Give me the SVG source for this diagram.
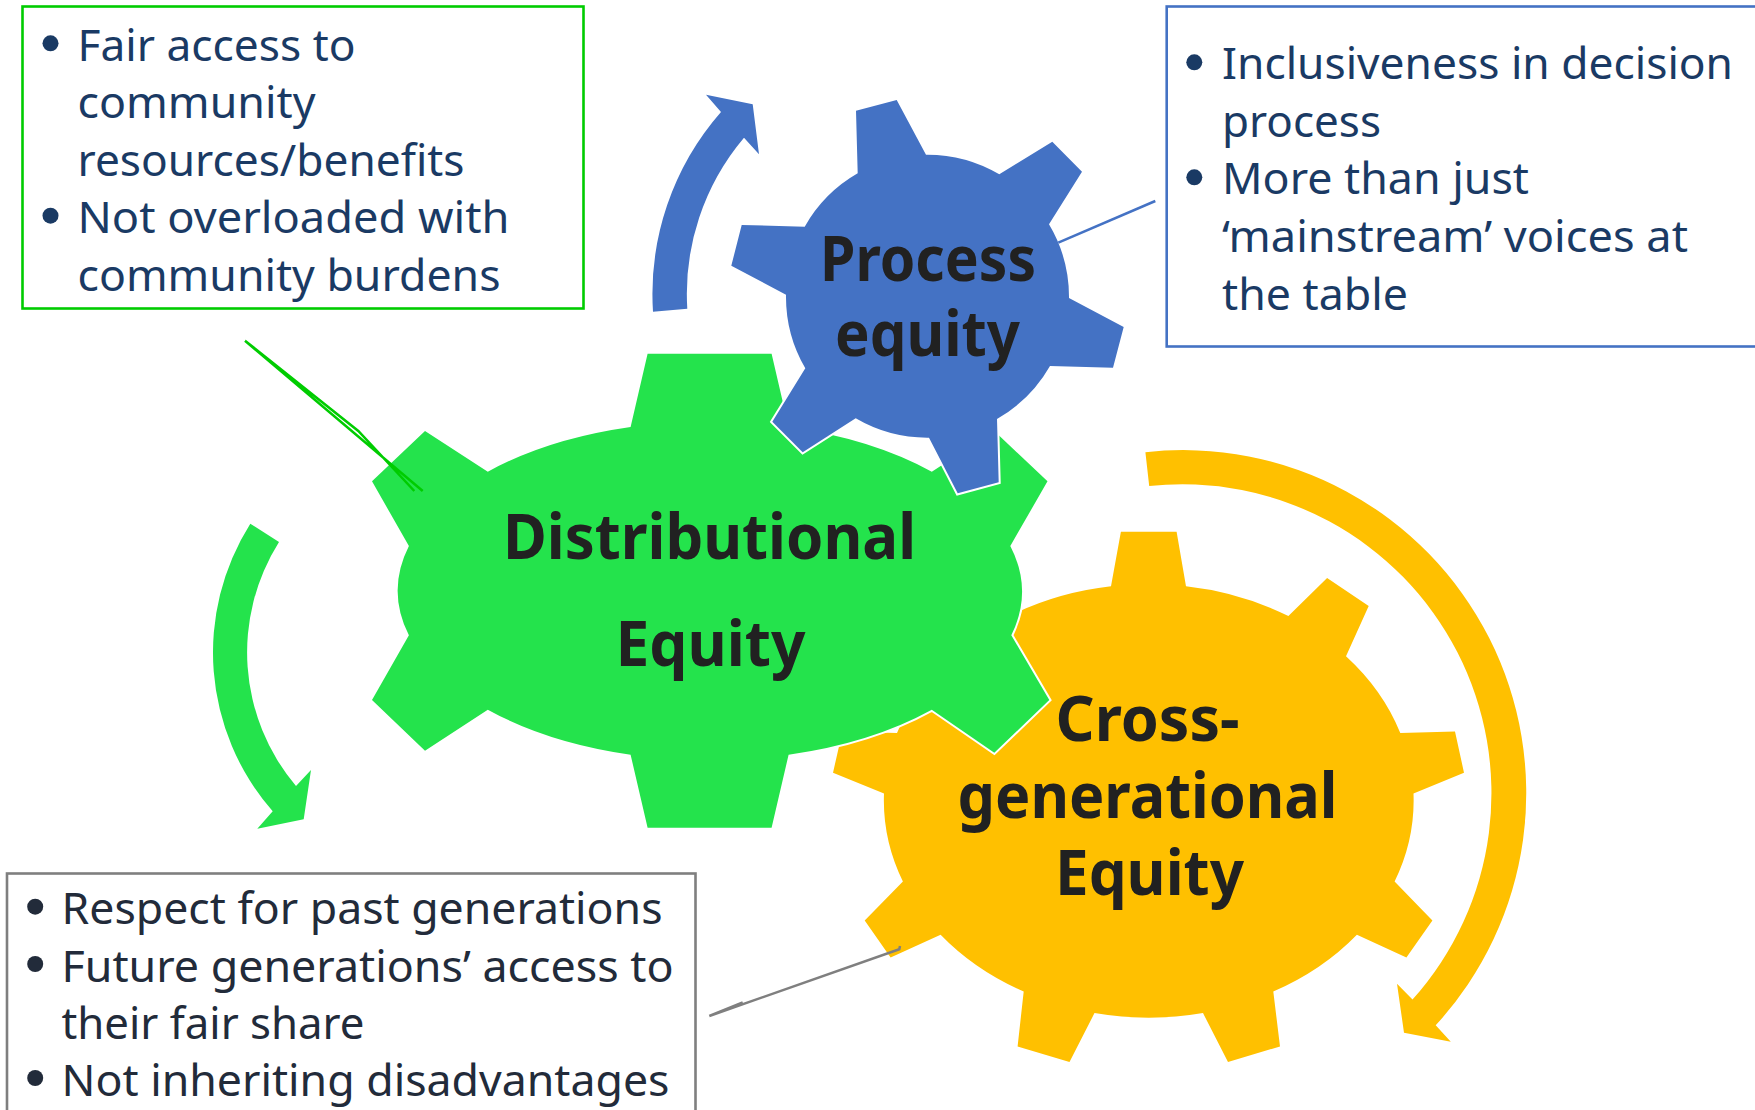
<svg xmlns="http://www.w3.org/2000/svg" width="1755" height="1110" viewBox="0 0 1755 1110">
<style>
.box{fill:#fff;stroke-width:2.6}
.body{font-family:"Noto Sans","Open Sans",sans-serif;font-size:43.5px;font-weight:400;fill:#1a3a64}
.dark{fill:#222b3a}
.title{font-family:"Noto Sans","Open Sans",sans-serif;font-size:62px;font-weight:700;fill:#212121}
.lead{fill:none;stroke-width:2.5}
.gear{stroke:#fff;stroke-width:4;paint-order:stroke;stroke-linejoin:miter}
</style>
<rect width="1755" height="1110" fill="#fff"/>
<g id="gear-cross-generational">
<path fill="#FFC000" d="M1120.9,531.7 L1176.6,531.7 L1186,586.2 A265,217.6 0 0 1 1288.4,616.1 L1327.1,577.9 L1368.7,606 L1346,656.3 A265,217.6 0 0 1 1400.3,733.1 L1455,731.5 L1464,772.7 L1413.5,793.5 A265,217.6 0 0 1 1394.6,881.6 L1432.4,920.4 L1406.4,957.5 L1356.9,934.7 A265,217.6 0 0 1 1273.3,991.5 L1280,1046.5 L1228,1061.9 L1203,1013.1 A265,217.6 0 0 1 1094.5,1013.1 L1069.5,1061.9 L1017.6,1046.5 L1023.7,991.5 A265,217.6 0 0 1 940.6,934.7 L890.6,957.5 L864.7,920.4 L902.9,881.6 A265,217.6 0 0 1 884,793.5 L833,772.7 L842.4,731.5 L897,733.1 A265,217.6 0 0 1 951.4,656.3 L928.7,606 L970.3,577.9 L1009,616.1 A265,217.6 0 0 1 1111,586.2 Z"/>
<text class="title" x="1055.5" y="741" textLength="184" lengthAdjust="spacingAndGlyphs">Cross-</text>
<text class="title" x="957.5" y="818.4" textLength="380" lengthAdjust="spacingAndGlyphs">generational</text>
<text class="title" x="1055" y="895" textLength="189" lengthAdjust="spacingAndGlyphs">Equity</text>
</g>
<g id="gear-distributional">
<path class="gear" fill="#24E34C" d="M647.6,353.7 L771.6,353.7 L788.6,427 A312,169 0 0 1 931.8,471.7 L994.3,431 L1047.5,481.3 L1010.3,546 A312,169 0 0 1 1011.3,635.3 L1049.3,700 L994.3,752.7 L931.8,709.7 A312,169 0 0 1 788.6,754.7 L771.6,827.7 L647.6,827.7 L630.6,754.7 A312,169 0 0 1 487.8,709.7 L425,750.7 L372,700 L408.9,635.3 A312,169 0 0 1 408.9,546 L372,481.3 L425,431 L487.8,471.7 A312,169 0 0 1 630.6,427 Z"/>
<text class="title" x="503" y="559.3" textLength="413" lengthAdjust="spacingAndGlyphs">Distributional</text>
<text class="title" x="615.5" y="666" textLength="190" lengthAdjust="spacingAndGlyphs">Equity</text>
</g>
<g id="gear-process">
<path class="gear" fill="#4472C4" d="M856,110.7 L896.7,100 L926,154.7 A142,142 0 0 1 999.3,174.3 L1052.3,141.7 L1082,171.7 L1049,224.3 A142,142 0 0 1 1069,298 L1123.7,327 L1113,367.7 L1050,366 A142,142 0 0 1 997,419 L998.7,482.3 L957.7,493.3 L929,437.7 A142,142 0 0 1 855.7,418.3 L802.7,452.3 L772.3,421.7 L805.3,368.3 A142,142 0 0 1 786,294.7 L731.3,265.7 L741.7,225 L804.7,226.7 A142,142 0 0 1 857.7,173.3 Z"/>
<text class="title" x="820" y="281" textLength="216" lengthAdjust="spacingAndGlyphs">Process</text>
<text class="title" x="835" y="355.5" textLength="185" lengthAdjust="spacingAndGlyphs">equity</text>
</g>
<g id="connectors">
<path fill="#4472C4" d="M653,311.7 L687.3,308.7 A242,242 0 0 1 744,137.7 L759,154.3 L752.7,104.3 L706,94.7 L721,112 A276,276 0 0 0 653,311.7 Z"/>
<path fill="#FFC000" d="M1145.4,452.2 A343,343 0 0 1 1435.7,1025.3 L1450.8,1041.7 L1404,1032.7 L1397,983.7 L1412.5,999.6 A309,309 0 0 0 1149.2,486.1 Z"/>
<path fill="#24E34C" d="M250.3,523.7 L279,542 A207,207 0 0 0 296,786 L311,770 L303.7,819.3 L257.3,828.7 L272.7,811.3 A241,241 0 0 1 250.3,523.7 Z"/>
<path class="lead" stroke="#00CC00" d="M245,340.7 L358.3,431 L414.3,491 M245,340.7 L422.7,491"/>
<path class="lead" stroke="#4472C4" d="M1058.3,242.7 L1155.3,201"/>
<path class="lead" stroke="#7F7F7F" d="M709.3,1016 L742.7,1002.3 M709.3,1016 L899.3,949.3 L900,946"/>
</g>
<g id="box-distributional">
<rect class="box" stroke="#00CC00" x="22.5" y="6.5" width="561" height="302"/>
<circle cx="50.5" cy="43.3" r="8" fill="#1a3a64"/>
<circle cx="50.5" cy="215.7" r="8" fill="#1a3a64"/>
<text class="body" x="77.5" y="61" textLength="278" lengthAdjust="spacingAndGlyphs">Fair access to</text>
<text class="body" x="77.5" y="118" textLength="238" lengthAdjust="spacingAndGlyphs">community</text>
<text class="body" x="77.5" y="175.5" textLength="387" lengthAdjust="spacingAndGlyphs">resources/benefits</text>
<text class="body" x="77.5" y="233" textLength="432" lengthAdjust="spacingAndGlyphs">Not overloaded with</text>
<text class="body" x="77.5" y="290.5" textLength="423" lengthAdjust="spacingAndGlyphs">community burdens</text>
</g>
<g id="box-process">
<rect class="box" stroke="#4472C4" x="1166.7" y="6.5" width="600" height="340"/>
<circle cx="1194.3" cy="62.3" r="8" fill="#1a3a64"/>
<circle cx="1194.3" cy="177.3" r="8" fill="#1a3a64"/>
<text class="body" x="1222" y="79.3" textLength="511" lengthAdjust="spacingAndGlyphs">Inclusiveness in decision</text>
<text class="body" x="1222" y="136.7" textLength="159" lengthAdjust="spacingAndGlyphs">process</text>
<text class="body" x="1222" y="194.3" textLength="307" lengthAdjust="spacingAndGlyphs">More than just</text>
<text class="body" x="1222" y="251.7" textLength="466" lengthAdjust="spacingAndGlyphs">‘mainstream’ voices at</text>
<text class="body" x="1222" y="309.8" textLength="186" lengthAdjust="spacingAndGlyphs">the table</text>
</g>
<g id="box-cross-generational">
<rect class="box" stroke="#7F7F7F" x="7" y="873.5" width="688.5" height="260"/>
<circle cx="35.2" cy="906.7" r="8" fill="#222b3a"/>
<circle cx="35.2" cy="964" r="8" fill="#222b3a"/>
<circle cx="35.2" cy="1078" r="8" fill="#222b3a"/>
<text class="body dark" x="61.5" y="924.3" textLength="601" lengthAdjust="spacingAndGlyphs">Respect for past generations</text>
<text class="body dark" x="61.5" y="981.7" textLength="612" lengthAdjust="spacingAndGlyphs">Future generations’ access to</text>
<text class="body dark" x="61.5" y="1039" textLength="303" lengthAdjust="spacingAndGlyphs">their fair share</text>
<text class="body dark" x="61.5" y="1096" textLength="608" lengthAdjust="spacingAndGlyphs">Not inheriting disadvantages</text>
</g>
</svg>
